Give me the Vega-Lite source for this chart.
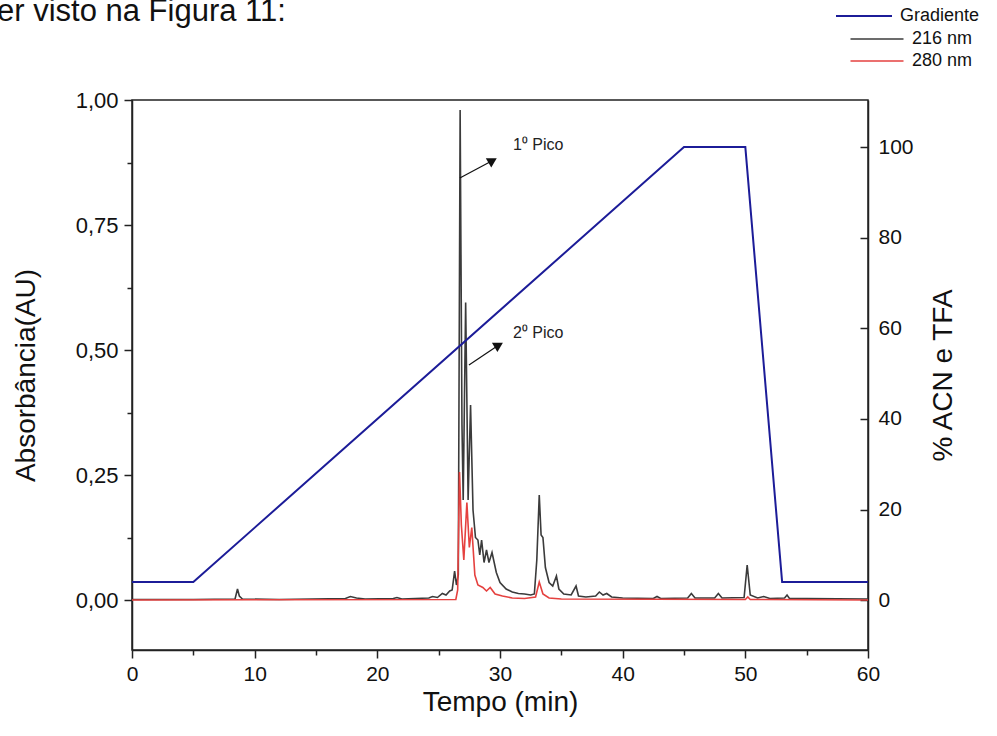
{
  "$schema": "https://vega.github.io/schema/vega-lite/v6.json",
  "width": 736,
  "height": 550,
  "autosize": {"type": "none"},
  "padding": {"left": 132, "top": 100, "right": 129, "bottom": 86},
  "background": "white",
  "title": {"text": "er visto na Figura 11:", "anchor": "start", "frame": "group", "dx": -135, "dy": 25, "fontSize": 31, "font": "Liberation Sans", "fontWeight": "normal", "color": "#111"},
  "config": {
    "view": {"stroke": "#222", "strokeWidth": 1.5},
    "font": "Liberation Sans",
    "axis": {"labelFont": "Liberation Sans", "titleFont": "Liberation Sans", "labelColor": "#111", "titleColor": "#111", "domainColor": "#222", "tickColor": "#222", "domainWidth": 1.5, "tickWidth": 1.5, "grid": false, "titleFontWeight": "normal"},
    "legend": {"labelFont": "Liberation Sans", "labelColor": "#111", "padding": 0}
  },
  "datasets": {
    "chrom": [
      {"series": "216 nm", "t": 0, "a": 0.001},
      {"series": "216 nm", "t": 5, "a": 0.001},
      {"series": "216 nm", "t": 8.4, "a": 0.002},
      {"series": "216 nm", "t": 8.6, "a": 0.022},
      {"series": "216 nm", "t": 8.75, "a": 0.008},
      {"series": "216 nm", "t": 9.0, "a": 0.002},
      {"series": "216 nm", "t": 12, "a": 0.001},
      {"series": "216 nm", "t": 17.4, "a": 0.003},
      {"series": "216 nm", "t": 17.8, "a": 0.007},
      {"series": "216 nm", "t": 18.3, "a": 0.004},
      {"series": "216 nm", "t": 19, "a": 0.002},
      {"series": "216 nm", "t": 21.3, "a": 0.003},
      {"series": "216 nm", "t": 21.6, "a": 0.005},
      {"series": "216 nm", "t": 22, "a": 0.002},
      {"series": "216 nm", "t": 24.2, "a": 0.004},
      {"series": "216 nm", "t": 24.5, "a": 0.007},
      {"series": "216 nm", "t": 24.9, "a": 0.005},
      {"series": "216 nm", "t": 25.3, "a": 0.013},
      {"series": "216 nm", "t": 25.6, "a": 0.01},
      {"series": "216 nm", "t": 25.9, "a": 0.018},
      {"series": "216 nm", "t": 26.1, "a": 0.02},
      {"series": "216 nm", "t": 26.3, "a": 0.058},
      {"series": "216 nm", "t": 26.45, "a": 0.03},
      {"series": "216 nm", "t": 26.6, "a": 0.05},
      {"series": "216 nm", "t": 26.75, "a": 0.98},
      {"series": "216 nm", "t": 26.9, "a": 0.35},
      {"series": "216 nm", "t": 27.0, "a": 0.2},
      {"series": "216 nm", "t": 27.2, "a": 0.595},
      {"series": "216 nm", "t": 27.4, "a": 0.2},
      {"series": "216 nm", "t": 27.6, "a": 0.39},
      {"series": "216 nm", "t": 27.8, "a": 0.18},
      {"series": "216 nm", "t": 28.0, "a": 0.125},
      {"series": "216 nm", "t": 28.2, "a": 0.12},
      {"series": "216 nm", "t": 28.35, "a": 0.09},
      {"series": "216 nm", "t": 28.5, "a": 0.12},
      {"series": "216 nm", "t": 28.7, "a": 0.075},
      {"series": "216 nm", "t": 28.9, "a": 0.1},
      {"series": "216 nm", "t": 29.1, "a": 0.075},
      {"series": "216 nm", "t": 29.35, "a": 0.095},
      {"series": "216 nm", "t": 29.7, "a": 0.055},
      {"series": "216 nm", "t": 30.0, "a": 0.035},
      {"series": "216 nm", "t": 30.5, "a": 0.022},
      {"series": "216 nm", "t": 31.0, "a": 0.016},
      {"series": "216 nm", "t": 31.5, "a": 0.013},
      {"series": "216 nm", "t": 32.0, "a": 0.012},
      {"series": "216 nm", "t": 32.5, "a": 0.01},
      {"series": "216 nm", "t": 32.8, "a": 0.012},
      {"series": "216 nm", "t": 33.0, "a": 0.08},
      {"series": "216 nm", "t": 33.2, "a": 0.21},
      {"series": "216 nm", "t": 33.35, "a": 0.13},
      {"series": "216 nm", "t": 33.5, "a": 0.125},
      {"series": "216 nm", "t": 33.7, "a": 0.065},
      {"series": "216 nm", "t": 34.0, "a": 0.035},
      {"series": "216 nm", "t": 34.3, "a": 0.028},
      {"series": "216 nm", "t": 34.6, "a": 0.048},
      {"series": "216 nm", "t": 34.8, "a": 0.022},
      {"series": "216 nm", "t": 35.2, "a": 0.012},
      {"series": "216 nm", "t": 35.8, "a": 0.01},
      {"series": "216 nm", "t": 36.2, "a": 0.028},
      {"series": "216 nm", "t": 36.4, "a": 0.008},
      {"series": "216 nm", "t": 37, "a": 0.006},
      {"series": "216 nm", "t": 37.8, "a": 0.008},
      {"series": "216 nm", "t": 38.1, "a": 0.016},
      {"series": "216 nm", "t": 38.4, "a": 0.01},
      {"series": "216 nm", "t": 38.7, "a": 0.013},
      {"series": "216 nm", "t": 39.1, "a": 0.006},
      {"series": "216 nm", "t": 40, "a": 0.004},
      {"series": "216 nm", "t": 42.5, "a": 0.003},
      {"series": "216 nm", "t": 42.8, "a": 0.007},
      {"series": "216 nm", "t": 43.1, "a": 0.003},
      {"series": "216 nm", "t": 45.3, "a": 0.004},
      {"series": "216 nm", "t": 45.6, "a": 0.013},
      {"series": "216 nm", "t": 45.9, "a": 0.004},
      {"series": "216 nm", "t": 47.5, "a": 0.004},
      {"series": "216 nm", "t": 47.8, "a": 0.013},
      {"series": "216 nm", "t": 48.1, "a": 0.004},
      {"series": "216 nm", "t": 49.9, "a": 0.005},
      {"series": "216 nm", "t": 50.15, "a": 0.07},
      {"series": "216 nm", "t": 50.4, "a": 0.01},
      {"series": "216 nm", "t": 51, "a": 0.004},
      {"series": "216 nm", "t": 51.5, "a": 0.007},
      {"series": "216 nm", "t": 52, "a": 0.003},
      {"series": "216 nm", "t": 53.2, "a": 0.004},
      {"series": "216 nm", "t": 53.4, "a": 0.01},
      {"series": "216 nm", "t": 53.6, "a": 0.003},
      {"series": "216 nm", "t": 55, "a": 0.003},
      {"series": "216 nm", "t": 60, "a": 0.002},
      {"series": "280 nm", "t": 0, "a": 0.0},
      {"series": "280 nm", "t": 26.4, "a": 0.001},
      {"series": "280 nm", "t": 26.55, "a": 0.02},
      {"series": "280 nm", "t": 26.7, "a": 0.256},
      {"series": "280 nm", "t": 26.85, "a": 0.15},
      {"series": "280 nm", "t": 27.05, "a": 0.08},
      {"series": "280 nm", "t": 27.3, "a": 0.195},
      {"series": "280 nm", "t": 27.5, "a": 0.105},
      {"series": "280 nm", "t": 27.7, "a": 0.145},
      {"series": "280 nm", "t": 27.95, "a": 0.05},
      {"series": "280 nm", "t": 28.2, "a": 0.03},
      {"series": "280 nm", "t": 28.6, "a": 0.025},
      {"series": "280 nm", "t": 28.9, "a": 0.018},
      {"series": "280 nm", "t": 29.2, "a": 0.025},
      {"series": "280 nm", "t": 29.6, "a": 0.012},
      {"series": "280 nm", "t": 30.2, "a": 0.008},
      {"series": "280 nm", "t": 31, "a": 0.004},
      {"series": "280 nm", "t": 32, "a": 0.003},
      {"series": "280 nm", "t": 32.9, "a": 0.006},
      {"series": "280 nm", "t": 33.2, "a": 0.036},
      {"series": "280 nm", "t": 33.5, "a": 0.012},
      {"series": "280 nm", "t": 34, "a": 0.004},
      {"series": "280 nm", "t": 35, "a": 0.002},
      {"series": "280 nm", "t": 50.0, "a": 0.001},
      {"series": "280 nm", "t": 50.2, "a": 0.006},
      {"series": "280 nm", "t": 50.4, "a": 0.001},
      {"series": "280 nm", "t": 60, "a": 0.0}
    ],
    "gradient": [
      {"series": "Gradiente", "t": 0, "pct": 4},
      {"series": "Gradiente", "t": 5, "pct": 4},
      {"series": "Gradiente", "t": 45, "pct": 100},
      {"series": "Gradiente", "t": 50, "pct": 100},
      {"series": "Gradiente", "t": 53, "pct": 4},
      {"series": "Gradiente", "t": 60, "pct": 4}
    ],
    "notes": [
      {"label": "1⁰ Pico", "t": 26.73, "a": 0.844, "t2": 29.4, "a2": 0.879, "tx": 31.05, "ay": 0.91},
      {"label": "2⁰ Pico", "t": 27.47, "a": 0.47, "t2": 29.9, "a2": 0.51, "tx": 31.05, "ay": 0.534}
    ]
  },
  "resolve": {"scale": {"y": "independent", "color": "independent"}},
  "layer": [
    {
      "layer": [
        {
          "data": {"name": "chrom"},
          "mark": {"type": "line", "strokeWidth": 1.6, "interpolate": "linear"},
          "encoding": {
            "x": {"field": "t", "type": "quantitative", "scale": {"domain": [0, 60], "nice": false, "zero": false},
              "axis": {"title": "Tempo (min)", "values": [0, 5, 10, 15, 20, 25, 30, 35, 40, 45, 50, 55, 60], "labelExpr": "datum.value % 10 === 0 ? datum.label : ''", "tickSize": {"condition": {"test": "datum.value % 10 === 0", "value": 8}, "value": 5}, "labelFontSize": 21, "titleFontSize": 28, "labelPadding": 5, "titlePadding": 4, "labelFlush": false}},
            "y": {"field": "a", "type": "quantitative", "scale": {"domain": [-0.1, 1.0], "nice": false, "zero": false},
              "axis": {"title": "Absorbância(AU)", "orient": "left", "values": [0, 0.125, 0.25, 0.375, 0.5, 0.625, 0.75, 0.875, 1.0], "labelExpr": "datum.value % 0.25 === 0 ? replace(format(datum.value, '.2f'), '.', ',') : ''", "tickSize": {"condition": {"test": "datum.value % 0.25 === 0", "value": 8}, "value": 5}, "labelFontSize": 22, "titleFontSize": 28, "labelPadding": 6, "titlePadding": 35, "labelFlush": false}},
            "color": {"field": "series", "type": "nominal", "scale": {"domain": ["216 nm", "280 nm"], "range": ["#3b3b3b", "#e5413f"]},
              "legend": {"title": null, "orient": "none", "legendX": 736, "legendY": -70, "symbolType": "M-5.3,0H5.3", "symbolStrokeWidth": 1.5, "symbolSize": 100, "labelFontSize": 18, "rowPadding": 4, "labelOffset": 26}}
          }
        },
        {
          "data": {"name": "notes"},
          "mark": {"type": "rule", "strokeWidth": 1.2, "color": "#111"},
          "encoding": {
            "x": {"field": "t", "type": "quantitative", "title": "Tempo (min)"},
            "y": {"field": "a", "type": "quantitative", "title": "Absorbância(AU)"},
            "x2": {"field": "t2"},
            "y2": {"field": "a2"}
          }
        },
        {
          "data": {"name": "notes"},
          "mark": {"type": "point", "shape": "triangle-up", "filled": true, "color": "#111", "opacity": 1, "size": 120, "angle": 60},
          "encoding": {
            "x": {"field": "t2", "type": "quantitative", "title": "Tempo (min)"},
            "y": {"field": "a2", "type": "quantitative", "title": "Absorbância(AU)"}
          }
        },
        {
          "data": {"name": "notes"},
          "mark": {"type": "text", "align": "left", "baseline": "middle", "fontSize": 16, "font": "Liberation Sans", "color": "#222"},
          "encoding": {
            "x": {"field": "tx", "type": "quantitative", "title": "Tempo (min)"},
            "y": {"field": "ay", "type": "quantitative", "title": "Absorbância(AU)"},
            "text": {"field": "label"}
          }
        }
      ]
    },
    {
      "data": {"name": "gradient"},
      "mark": {"type": "line", "strokeWidth": 2},
      "encoding": {
        "x": {"field": "t", "type": "quantitative", "title": "Tempo (min)"},
        "y": {"field": "pct", "type": "quantitative", "scale": {"domain": [-11, 110.4], "nice": false, "zero": false},
          "axis": {"title": "% ACN e TFA", "orient": "right", "values": [0, 20, 40, 60, 80, 100], "tickSize": -8, "labelFontSize": 21, "titleFontSize": 28, "labelPadding": 18, "titlePadding": 44, "titleAngle": 270, "labelFlush": false}},
        "color": {"field": "series", "type": "nominal", "scale": {"domain": ["Gradiente"], "range": ["#1c1c98"]},
          "legend": {"title": null, "orient": "none", "legendX": 723, "legendY": -93, "symbolType": "M-5.6,0H5.6", "symbolStrokeWidth": 2, "symbolSize": 100, "labelFontSize": 18, "labelOffset": 27}}
      }
    }
  ]
}
